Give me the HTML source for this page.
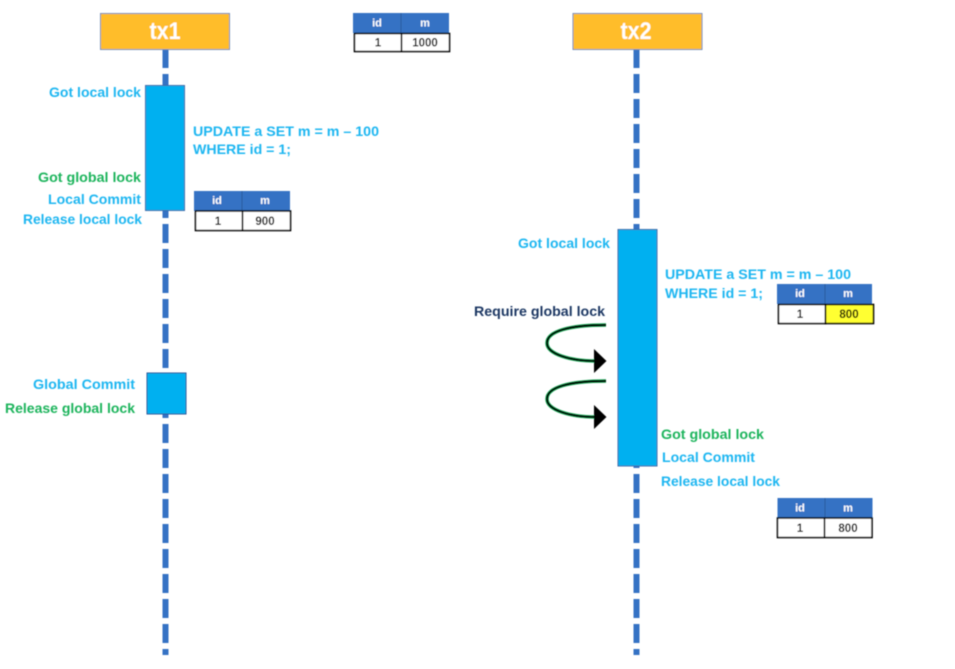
<!DOCTYPE html>
<html><head><meta charset="utf-8"><style>
html,body{margin:0;padding:0;background:#fff}
svg{display:block}
text{font-family:"Liberation Sans",sans-serif;font-weight:bold}
.l{font-size:14px;fill:#1FB6F1}
.g{font-size:14px;fill:#1DB45C}
.h{font-size:11px;fill:#fff;text-anchor:middle}
.c{font-size:11.500px;fill:#000;text-anchor:middle}
.tx{font-size:24px;fill:#fff;text-anchor:middle}
</style></head><body>
<svg width="955" height="669" viewBox="0 0 955 669" xmlns="http://www.w3.org/2000/svg">
<defs><filter id="b" x="-5%" y="-5%" width="110%" height="110%"><feGaussianBlur stdDeviation="0.4"/></filter></defs>
<g filter="url(#b)">
<line x1="165.500" y1="49" x2="165.500" y2="655" stroke="#3572C4" stroke-width="6" stroke-dasharray="19 6"/>
<line x1="636.500" y1="49" x2="636.500" y2="655" stroke="#3572C4" stroke-width="6" stroke-dasharray="19 6"/>

<rect x="100.500" y="13.500" width="129" height="36" fill="#FFBD2B" stroke="#6F8FB8"/>
<text x="165" y="39" class="tx" textLength="31" lengthAdjust="spacingAndGlyphs">tx1</text>
<rect x="573" y="13.500" width="129" height="36" fill="#FFBD2B" stroke="#6F8FB8"/>
<text x="636" y="39" class="tx" textLength="31" lengthAdjust="spacingAndGlyphs">tx2</text>

<rect x="145.500" y="85.500" width="39" height="125" fill="#00B0F0" stroke="#3F6AA8"/>
<rect x="147" y="373" width="39" height="41" fill="#00B0F0" stroke="#2F5597"/>
<rect x="618" y="229.500" width="39" height="236.500" fill="#00B0F0" stroke="#3F6AA8"/>

<!-- table top -->
<rect x="353" y="13" width="96" height="20" fill="#3572C4"/>
<line x1="401" y1="13" x2="401" y2="33" stroke="#2C5A9C"/>
<rect x="354.500" y="33.500" width="95" height="18" fill="#fff" stroke="#000" stroke-width="1.600"/>
<line x1="401.500" y1="33" x2="401.500" y2="52" stroke="#000" stroke-width="1.600"/>
<text x="377" y="26.500" class="h">id</text><text x="425" y="26.500" class="h">m</text>
<text x="378" y="46.500" class="c">1</text><text x="425" y="46.500" class="c">1000</text>

<!-- table tx1 -->
<rect x="194" y="191" width="96" height="20" fill="#3572C4"/>
<line x1="242" y1="191" x2="242" y2="211" stroke="#2C5A9C"/>
<rect x="195.500" y="211" width="95" height="19.500" fill="#fff" stroke="#000" stroke-width="1.600"/>
<line x1="242.500" y1="211" x2="242.500" y2="231" stroke="#000" stroke-width="1.600"/>
<text x="217" y="204" class="h">id</text><text x="265" y="204" class="h">m</text>
<text x="218" y="225" class="c">1</text><text x="265" y="225" class="c">900</text>

<!-- table tx2 a -->
<rect x="777" y="284" width="95" height="20" fill="#3572C4"/>
<line x1="825" y1="284" x2="825" y2="304" stroke="#2C5A9C"/>
<rect x="778.500" y="304.500" width="47" height="19" fill="#fff" stroke="#000" stroke-width="1.600"/>
<rect x="825.500" y="304.500" width="48" height="19" fill="#FFFF33" stroke="#000" stroke-width="1.600"/>
<text x="800" y="297" class="h">id</text><text x="848" y="297" class="h">m</text>
<text x="800" y="318" class="c">1</text><text x="849" y="318" class="c">800</text>

<!-- table tx2 b -->
<rect x="777.500" y="498" width="95" height="20" fill="#3572C4"/>
<line x1="825" y1="498" x2="825" y2="518" stroke="#2C5A9C"/>
<rect x="777.500" y="518" width="94.500" height="19.500" fill="#fff" stroke="#000" stroke-width="1.600"/>
<line x1="824.500" y1="518" x2="824.500" y2="538" stroke="#000" stroke-width="1.600"/>
<text x="800" y="511.500" class="h">id</text><text x="848" y="511.500" class="h">m</text>
<text x="800" y="532" class="c">1</text><text x="848" y="532" class="c">800</text>

<!-- labels tx1 -->
<text x="49" y="97" class="l" textLength="92" lengthAdjust="spacingAndGlyphs">Got local lock</text>
<text x="193" y="136" class="l" textLength="186" lengthAdjust="spacingAndGlyphs">UPDATE a SET m = m – 100</text>
<text x="193" y="154" class="l" textLength="98" lengthAdjust="spacingAndGlyphs">WHERE id = 1;</text>
<text x="38" y="182" class="g" textLength="103" lengthAdjust="spacingAndGlyphs">Got global lock</text>
<text x="48" y="204" class="l" textLength="93" lengthAdjust="spacingAndGlyphs">Local Commit</text>
<text x="23" y="224" class="l" textLength="119" lengthAdjust="spacingAndGlyphs">Release local lock</text>
<text x="33" y="389" class="l" textLength="102" lengthAdjust="spacingAndGlyphs">Global Commit</text>
<text x="5" y="413" class="g" textLength="130" lengthAdjust="spacingAndGlyphs">Release global lock</text>

<!-- labels tx2 -->
<text x="518" y="248" class="l" textLength="92" lengthAdjust="spacingAndGlyphs">Got local lock</text>
<text x="665" y="279" class="l" textLength="186" lengthAdjust="spacingAndGlyphs">UPDATE a SET m = m – 100</text>
<text x="665" y="298" class="l" textLength="98" lengthAdjust="spacingAndGlyphs">WHERE id = 1;</text>
<text x="474" y="316" font-size="14" fill="#1F3864" textLength="131" lengthAdjust="spacingAndGlyphs">Require global lock</text>
<text x="661" y="439" class="g" textLength="103" lengthAdjust="spacingAndGlyphs">Got global lock</text>
<text x="662" y="462" class="l" textLength="93" lengthAdjust="spacingAndGlyphs">Local Commit</text>
<text x="661" y="486" class="l" textLength="119" lengthAdjust="spacingAndGlyphs">Release local lock</text>

<!-- loop arrows -->
<g fill="none" stroke-linecap="butt">
<path d="M606 325 C570 325 547 331 547 343 C547 354 570 361 596 361" stroke="#1DB45C" stroke-width="3.500"/>
<path d="M606 325 C570 325 547 331 547 343 C547 354 570 361 596 361" stroke="#000" stroke-width="2.200"/>
<path d="M606 381 C570 381 547 387 547 399 C547 410 570 417 596 417" stroke="#1DB45C" stroke-width="3.500"/>
<path d="M606 381 C570 381 547 387 547 399 C547 410 570 417 596 417" stroke="#000" stroke-width="2.200"/>
</g>
<polygon points="594,349 606.500,361 594,373" fill="#000"/>
<polygon points="594,405 606.500,417 594,429" fill="#000"/>
</g>
</svg>
</body></html>
